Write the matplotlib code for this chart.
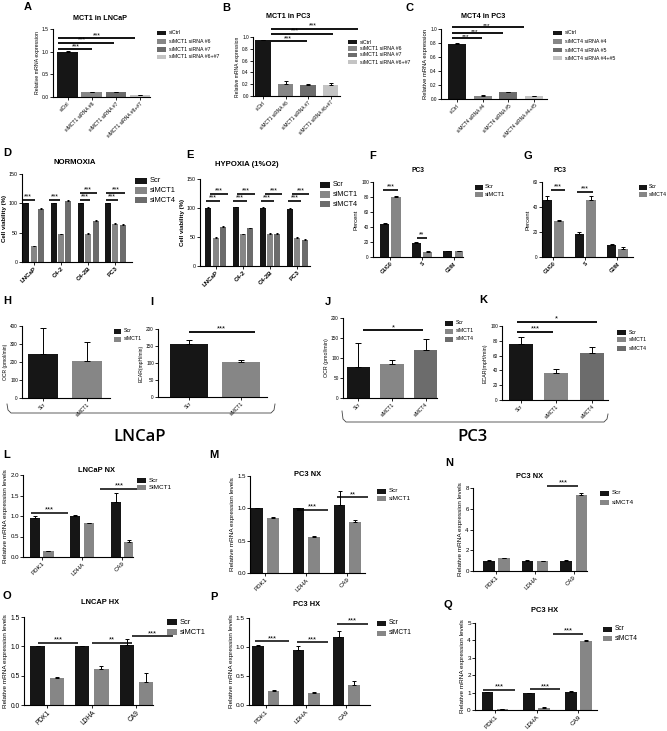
import matplotlib
matplotlib.use('Agg')
import matplotlib.pyplot as plt
from matplotlib.patches import Rectangle
from matplotlib.lines import Line2D
import numpy as np

# ---------------- DATA ----------------
a_cats = ['siCtrl', 'siMCT1 siRNA #6', 'siMCT1 siRNA #7', 'siMCT1 siRNA #6+#7']
a_vals = [1.00, 0.10, 0.10, 0.04]
a_errs = [0.01, 0.01, 0.01, 0.01]

b_cats = ['siCtrl', 'siMCT1 siRNA #6', 'siMCT1 siRNA #7', 'siMCT1 siRNA #6+#7']
b_vals = [0.95, 0.20, 0.19, 0.19]
b_errs = [0.005, 0.06, 0.015, 0.025]

c_cats = ['siCtrl', 'siMCT4 siRNA #4', 'siMCT4 siRNA #5', 'siMCT4 siRNA #4+#5']
c_vals = [0.79, 0.05, 0.095, 0.04]
c_errs = [0.005, 0.01, 0.006, 0.005]

cell_lines = ['LNCaP', 'C4-2', 'C4-2B', 'PC3']
d_scr = [100, 100, 100, 100]
d_mct1 = [27, 47, 48, 65]
d_mct4 = [91, 104, 70, 63]
d_scr_err = [1, 1, 1, 1]
d_mct1_err = [1, 1, 1, 1]
d_mct4_err = [1, 1, 1, 1]

e_scr = [100, 101, 100, 99]
e_mct1 = [49, 55, 56, 49]
e_mct4 = [68, 65, 56, 44]
e_scr_err = [1, 1, 1, 1]
e_mct1_err = [1, 1, 1, 1]
e_mct4_err = [1, 1, 1, 2]

phases = ['G1/G0', 'S', 'G2/M']
f_scr = [44, 19, 8]
f_scr_err = [1.5, 1, 0.3]
f_mct1 = [80, 7, 7.5]
f_mct1_err = [1, 0.5, 0.3]
g_scr = [46, 18.5, 9.5]
g_scr_err = [3, 1.5, 0.7]
g_mct4 = [29, 46, 6.5]
g_mct4_err = [1, 3, 1.5]

h_cats = ['Scr', 'siMCT1']
h_vals = [245, 205]
h_errs = [145, 105]
i_cats = ['Scr', 'siMCT1']
i_vals = [157, 103]
i_errs = [10, 6]
j_cats = ['Scr', 'siMCT1', 'siMCT4']
j_vals = [77, 84, 119]
j_errs = [60, 10, 29]
k_cats = ['Scr', 'siMCT1', 'siMCT4']
k_vals = [76, 37, 63]
k_errs = [9, 4.5, 8]

genes = ['PDK1', 'LDHA', 'CA9']
l_scr = [0.96, 0.99, 1.35]
l_scr_err = [0.03, 0.03, 0.22]
l_mct1 = [0.14, 0.83, 0.36]
l_mct1_err = [0.01, 0.005, 0.06]
m_scr = [1.00, 1.00, 1.05]
m_scr_err = [0.005, 0.005, 0.22]
m_mct1 = [0.85, 0.56, 0.79]
m_mct1_err = [0.01, 0.005, 0.03]
n_scr = [1.0, 1.0, 1.0]
n_scr_err = [0.02, 0.02, 0.05]
n_mct4 = [1.22, 0.97, 7.30]
n_mct4_err = [0.04, 0.03, 0.2]
o_scr = [1.00, 1.00, 1.03]
o_scr_err = [0.01, 0.005, 0.10]
o_mct1 = [0.46, 0.61, 0.40]
o_mct1_err = [0.02, 0.06, 0.14]
p_scr = [1.02, 0.95, 1.18]
p_scr_err = [0.02, 0.07, 0.10]
p_mct1 = [0.24, 0.21, 0.35]
p_mct1_err = [0.02, 0.01, 0.07]
q_scr = [1.02, 0.95, 1.05]
q_scr_err = [0.02, 0.03, 0.07]
q_mct4 = [0.07, 0.14, 3.97]
q_mct4_err = [0.01, 0.02, 0.05]

# ---------------- STYLE ----------------
W, H = 667, 731
plt.rcParams['font.family'] = ['Liberation Sans', 'DejaVu Sans']
fig = plt.figure(figsize=(W / 100, H / 100), dpi=100)

BLK = '#161616'
GR1 = '#868686'
GR2 = '#6c6c6c'
GR3 = '#c4c4c4'


def ax_px(x0, y_top, x1, y_bot):
    return fig.add_axes([x0 / W, 1 - y_bot / H, (x1 - x0) / W, (y_bot - y_top) / H])


def style(ax, ymax, yticks, xlim, fs, ylabel, ylfs, ylbold=False, ylpad=1.5):
    ax.set_ylim(0, ymax)
    ax.set_xlim(*xlim)
    ax.set_yticks(yticks)
    for s in ['top', 'right']:
        ax.spines[s].set_visible(False)
    for s in ['left', 'bottom']:
        ax.spines[s].set_linewidth(0.8)
    ax.tick_params(length=2, width=0.6, labelsize=fs, pad=1)
    ax.set_ylabel(ylabel, fontsize=ylfs, labelpad=ylpad,
                  fontweight='bold' if ylbold else 'normal')
    ax.patch.set_alpha(0)


def xlabels(ax, pos, labels, fs, bold=False):
    ax.set_xticks(pos)
    ax.set_xticklabels(labels, rotation=45, ha='right', rotation_mode='anchor',
                       fontsize=fs, fontweight='bold' if bold else 'normal')


def bars(ax, xs, vals, errs, color, width, cap=1.5):
    ax.bar(xs, vals, width=width, color=color, edgecolor='none', zorder=2)
    ax.errorbar(xs, vals, yerr=[np.zeros(len(vals)), errs], fmt='none', ecolor='k',
                elinewidth=0.7, capsize=cap, capthick=0.7, zorder=3)


def sig(ax, x0, x1, y, txt, fs, lw=1.3, xc=None):
    ax.plot([x0, x1], [y, y], color='k', lw=lw, clip_on=False, solid_capstyle='butt', zorder=4)
    if xc is None:
        xc = (x0 + x1) / 2
    ax.annotate(txt, xy=(xc, y), xytext=(0, -0.12 * fs), textcoords='offset points',
                ha='center', va='bottom', fontsize=fs, annotation_clip=False)


def legend_px(x, ys, labels, colors, fs, pw=9, ph=5, gap=3):
    for y, lab, c in zip(ys, labels, colors):
        fig.add_artist(Rectangle((x / W, 1 - (y + ph / 2) / H), pw / W, ph / H,
                                 transform=fig.transFigure, color=c, lw=0))
        fig.text((x + pw + gap) / W, 1 - y / H, lab, fontsize=fs, va='center', ha='left')


def letter(x, y, s):
    fig.text(x / W, 1 - y / H, s, fontsize=8, fontweight='bold', va='center', ha='left')


def title(x, y, s, fs=5.2):
    fig.text(x / W, 1 - y / H, s, fontsize=fs, fontweight='bold', va='center', ha='center')


# ---------------- A ----------------
ax = ax_px(53, 29, 150, 97)
xs = np.arange(len(a_vals))
bars(ax, xs, a_vals, a_errs, [BLK, GR1, GR2, GR3], 0.85)
style(ax, 1.5, [0, 0.5, 1.0, 1.5], (-0.6, 3.4), 3.6, 'Relative mRNA expression', 3.8)
xlabels(ax, xs, a_cats, 3.6)
sig(ax, -0.4, 1.0, 1.05, '***', 5, xc=0.35)
sig(ax, -0.4, 1.9, 1.20, '***', 5, xc=0.6)
sig(ax, -0.4, 2.8, 1.30, '***', 5, xc=1.2)
legend_px(157, [33, 41.5, 49.5, 57], a_cats, [BLK, GR1, GR2, GR3], 3.8, pw=9, ph=4.5)
letter(24, 7, 'A')
title(100, 18, 'MCT1 in LNCaP')

# ---------------- B ----------------
ax = ax_px(253, 37, 340, 96)
xs = np.arange(len(b_vals))
bars(ax, xs, b_vals, b_errs, [BLK, GR1, GR2, GR3], 0.7)
style(ax, 1.0, [0, 0.2, 0.4, 0.6, 0.8, 1.0], (-0.45, 3.42), 3.4, 'Relative mRNA expression', 3.6)
xlabels(ax, xs, b_cats, 3.4)
sig(ax, 0.33, 1.96, 0.925, '***', 5, xc=1.1)
sig(ax, 0.33, 3.1, 1.05, '***', 5, xc=1.4)
sig(ax, 0.33, 4.2, 1.14, '***', 5, xc=2.2)
legend_px(348, [42, 48.5, 55, 62], b_cats, [BLK, GR1, GR2, GR3], 3.8, pw=9, ph=4.5)
letter(222, 8, 'B')
title(288, 16, 'MCT1 in PC3')

# ---------------- C ----------------
ax = ax_px(441, 29, 547, 99)
xs = np.arange(len(c_vals))
bars(ax, xs, c_vals, c_errs, [BLK, GR1, GR2, GR3], 0.7)
style(ax, 1.0, [0, 0.2, 0.4, 0.6, 0.8, 1.0], (-0.62, 3.5), 3.4, 'Relative mRNA expression', 4.2)
xlabels(ax, xs, c_cats, 3.4)
sig(ax, -0.2, 0.96, 0.865, '***', 4.6, xc=0.35)
sig(ax, -0.2, 1.78, 0.94, '***', 4.6, xc=0.7)
sig(ax, -0.2, 2.62, 1.03, '***', 4.6, xc=1.15)
legend_px(553, [33, 41.5, 50, 58], c_cats, [BLK, GR1, GR2, GR3], 3.8, pw=9, ph=4.5)
letter(406, 8, 'C')
title(483, 16, 'MCT4 in PC3')


# ---------------- D / E ----------------
def viability(box, xlim, scr, m1, m4, se, m1e, m4e, lines, title_xy, title_s, let_xy, let_s, leg):
    ax = ax_px(*box)
    g = np.arange(len(cell_lines))
    st = 0.27
    bars(ax, g - st, scr, se, BLK, 0.22, cap=1)
    bars(ax, g, m1, m1e, GR1, 0.22, cap=1)
    bars(ax, g + st, m4, m4e, GR2, 0.22, cap=1)
    style(ax, 150, [0, 50, 100, 150], xlim, 3.8, 'Cell viability (%)', 4.4, ylbold=True)
    xlabels(ax, g, cell_lines, 4.4, bold=True)
    for x0, x1, y in lines:
        sig(ax, x0, x1, y, '***', 5, lw=1.2)
    title(*title_xy, title_s, fs=5.6)
    letter(*let_xy, let_s)
    legend_px(*leg)
    return ax


viability((22, 174, 132, 262), (-0.43, 3.61), d_scr, d_mct1, d_mct4,
          d_scr_err, d_mct1_err, d_mct4_err,
          [(-0.44, 0.04, 106), (0.57, 0.96, 106), (1.70, 2.07, 106), (1.70, 2.31, 118),
           (2.65, 3.10, 106), (2.65, 3.35, 118)],
          (75, 163), 'NORMOXIA', (3, 153), 'D',
          (135, [181, 190.5, 200], ['Scr', 'siMCT1', 'siMCT4'], [BLK, GR1, GR2], 5.4, 12, 6))

viability((200, 179, 310, 266), (-0.58, 3.47), e_scr, e_mct1, e_mct4,
          e_scr_err, e_mct1_err, e_mct4_err,
          [(-0.35, 0.15, 112.6), (-0.2, 0.45, 125), (0.65, 1.15, 112.6), (0.8, 1.45, 125),
           (1.65, 2.15, 112.6), (1.8, 2.45, 125), (2.65, 3.15, 112.6), (2.8, 3.45, 125)],
          (247, 165), 'HYPOXIA (1%O2)', (186, 155), 'E',
          (320, [185, 194.5, 204], ['Scr', 'siMCT1', 'siMCT4'], [BLK, GR1, GR2], 5.2, 10, 6, 2.5))


# ---------------- F / G ----------------
def cycle(box, xlim, ymax, yticks, scr, se, si, sie, silab, lines, tx, lx, legx, legfs):
    ax = ax_px(*box)
    g = np.arange(len(phases))
    st = 0.18
    bars(ax, g - st, scr, se, BLK, 0.29, cap=1.2)
    bars(ax, g + st, si, sie, GR1, 0.29, cap=1.2)
    style(ax, ymax, yticks, xlim, 3.4, 'Percent', 4.2)
    xlabels(ax, g, phases, 3.6, bold=True)
    for x0, x1, y, s in lines:
        sig(ax, x0, x1, y, s, 5, lw=1.2)
    title(tx, 171, 'PC3', fs=4.8)
    letter(lx, 156, 'F' if silab == 'siMCT1' else 'G')
    legend_px(legx, [187, 194.5], ['Scr', silab], [BLK, GR1], legfs, pw=8, ph=5, gap=2)


cycle((373, 182, 463, 257), (-0.55, 2.3), 100, [0, 20, 40, 60, 80, 100],
      f_scr, f_scr_err, f_mct1, f_mct1_err, 'siMCT1',
      [(-0.24, 0.25, 90, '***'), (0.85, 1.15, 26, '**')], 418, 369, 475, 4.2)
cycle((542, 182, 633, 257), (-0.35, 2.49), 60, [0, 20, 40, 60],
      g_scr, g_scr_err, g_mct4, g_mct4_err, 'siMCT4',
      [(-0.08, 0.37, 54, '***'), (0.75, 1.25, 52, '***')], 560, 524, 639, 3.8)

# ---------------- H / I / J / K ----------------
ax = ax_px(22, 326, 110, 398)
xs = np.arange(len(h_vals))
bars(ax, xs, h_vals, h_errs, [BLK, GR1], 0.68, cap=2)
style(ax, 400, [0, 100, 200, 300, 400], (-0.48, 1.52), 3.4, 'OCR (pmol/min)', 3.6)
xlabels(ax, xs, h_cats, 3.6)
legend_px(114, [331, 339], ['Scr', 'siMCT1'], [BLK, GR1], 3.8, pw=7, ph=5)
letter(3, 301, 'H')

ax = ax_px(158, 329, 267, 397)
xs = np.arange(len(i_vals))
bars(ax, xs, i_vals, i_errs, [BLK, GR1], 0.74, cap=2)
style(ax, 200, [0, 50, 100, 150, 200], (-0.6, 1.5), 3.4, 'ECAR(mpH/min)', 3.6)
xlabels(ax, xs, i_cats, 3.6)
sig(ax, -0.01, 1.27, 192, '***', 5.4)
letter(150, 302, 'I')

ax = ax_px(343, 318, 437, 398)
xs = np.arange(len(j_vals))
bars(ax, xs, j_vals, j_errs, [BLK, GR1, GR2], 0.69, cap=2)
style(ax, 200, [0, 50, 100, 150, 200], (-0.46, 2.34), 3.4, 'OCR (pmol/min)', 3.8)
xlabels(ax, xs, j_cats, 3.6)
sig(ax, 0.15, 1.92, 169, '*', 5.4)
legend_px(445, [323, 331, 339], ['Scr', 'siMCT1', 'siMCT4'], [BLK, GR1, GR2], 3.8, pw=8, ph=5)
letter(325, 302, 'J')

ax = ax_px(502, 326, 608, 400)
xs = np.arange(len(k_vals))
bars(ax, xs, k_vals, k_errs, [BLK, GR1, GR2], 0.67, cap=2)
style(ax, 100, [0, 20, 40, 60, 80, 100], (-0.52, 2.45), 3.4, 'ECAR(mpH/min)', 3.8)
xlabels(ax, xs, k_cats, 3.6)
sig(ax, -0.1, 0.92, 92, '***', 5.4)
sig(ax, -0.1, 2.13, 105.8, '*', 5.4)
legend_px(617, [332, 340, 348], ['Scr', 'siMCT1', 'siMCT4'], [BLK, GR1, GR2], 3.8, pw=9, ph=5)
letter(479, 300, 'K')


# brackets
def bracket(x0, x1, ytop, ybot, ytop_r):
    xsb = [x0, x0 + 1, x0 + 4, x1 - 4, x1 - 1, x1]
    ysb = [ytop, ybot - 3, ybot, ybot, ybot - 3, ytop_r]
    fig.add_artist(Line2D([v / W for v in xsb], [1 - v / H for v in ysb],
                          transform=fig.transFigure, color='#444444', lw=0.6))


bracket(7, 275, 404, 413, 404)
bracket(342, 608, 411, 422, 414)
fig.text(140 / W, 1 - 437 / H, 'LNCaP', fontsize=12, family=['Open Sans', 'DejaVu Sans'],
         ha='center', va='center', fontweight='semibold')
fig.text(473 / W, 1 - 437 / H, 'PC3', fontsize=12, family=['Open Sans', 'DejaVu Sans'],
         ha='center', va='center', fontweight='semibold')


# ---------------- L - Q ----------------
def expr(box, xlim, ymax, yticks, scr, se, si, sie, silab, sicol, w, st, lines,
         tit, let, leg_x, leg_ys, fs=4.4, legfs=4.6, pw=9, ph=5):
    ax = ax_px(*box)
    g = np.arange(len(genes))
    bars(ax, g - st / 2, scr, se, BLK, w, cap=1.5)
    bars(ax, g + st / 2, si, sie, sicol, w, cap=1.5)
    style(ax, ymax, yticks, xlim, fs, 'Relative mRNA expression levels', 4.6)
    xlabels(ax, g, genes, fs)
    for x0, x1, y, s in lines:
        sig(ax, x0, x1, y, s, 5.4, lw=1.1)
    title(*tit, fs=5.4)
    letter(*let)
    legend_px(leg_x, leg_ys, ['Scr', silab], [BLK, sicol], legfs, pw=pw, ph=ph)


expr((23, 475, 133, 557), (-0.47, 2.27), 2.0, [0, 0.5, 1.0, 1.5, 2.0],
     l_scr, l_scr_err, l_mct1, l_mct1_err, 'SiMCT1', GR1, 0.25, 0.33,
     [(-0.28, 0.66, 1.08, '***'), (1.45, 2.41, 1.66, '***')],
     (97, 470, 'LNCaP NX'), (3, 455, 'L'), 137, [480, 487.5])
expr((250, 476, 365, 573), (-0.37, 2.43), 1.5, [0, 0.5, 1.0, 1.5],
     m_scr, m_scr_err, m_mct1, m_mct1_err, 'siMCT1', GR1, 0.29, 0.38,
     [(0.77, 1.54, 0.98, '***'), (1.76, 2.51, 1.17, '**')],
     (308, 474, 'PC3 NX'), (209, 455, 'M'), 377, [491, 498.5])
expr((473, 488, 587, 571), (-0.6, 2.34), 8, [0, 2, 4, 6, 8],
     n_scr, n_scr_err, n_mct4, n_mct4_err, 'siMCT4', GR1, 0.3, 0.39,
     [(1.32, 2.12, 8.2, '***')],
     (530, 477, 'PC3 NX'), (445, 463, 'N'), 600, [493, 502])
expr((24, 617, 153, 705), (-0.52, 2.37), 1.5, [0, 0.5, 1.0, 1.5],
     o_scr, o_scr_err, o_mct1, o_mct1_err, 'siMCT1', GR1, 0.32, 0.43,
     [(-0.2, 0.70, 1.065, '***'), (1.0, 1.89, 1.065, '**'), (1.91, 2.82, 1.17, '***')],
     (100, 603, 'LNCAP HX'), (3, 596, 'O'), 167, [622, 632], fs=4.8, legfs=5.4, pw=10, ph=6)
expr((249, 618, 370, 705), (-0.42, 2.59), 1.5, [0, 0.5, 1.0, 1.5],
     p_scr, p_scr_err, p_mct1, p_mct1_err, 'siMCT1', GR1, 0.29, 0.38,
     [(-0.27, 0.57, 1.10, '***'), (0.77, 1.55, 1.08, '***'), (1.76, 2.54, 1.40, '***')],
     (307, 605, 'PC3 HX'), (210, 597, 'P'), 377, [623, 633], fs=4.6, legfs=4.8)
expr((475, 623, 597, 710), (-0.48, 2.45), 5, [0, 1, 2, 3, 4, 5],
     q_scr, q_scr_err, q_mct4, q_mct4_err, 'siMCT4', GR1, 0.28, 0.36,
     [(-0.28, 0.48, 1.15, '***'), (0.84, 1.56, 1.2, '***'), (1.4, 2.12, 4.37, '***')],
     (545, 611, 'PC3 HX'), (444, 605, 'Q'), 603, [629, 638], fs=4.6, legfs=4.8)

fig.savefig('out.png', dpi=100)
